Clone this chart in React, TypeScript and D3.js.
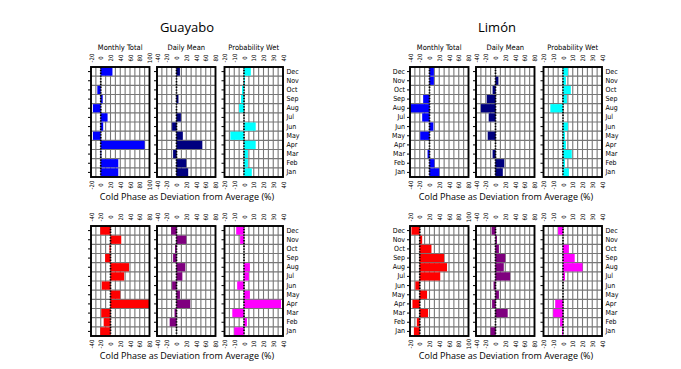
import React from 'react';
import { scaleLinear, scaleBand, range } from 'd3';

const months = ['Jan', 'Feb', 'Mar', 'Apr', 'May', 'Jun', 'Jul', 'Aug', 'Sep', 'Oct', 'Nov', 'Dec'];
const panelTitles = ['Monthly Total', 'Daily Mean', 'Probability Wet'];
const axisTitle = 'Cold Phase as Deviation from Average (%)';

// tick labels of the three kinds of x axis
const ticksTotalWide = [-20, 0, 20, 40, 60, 80, 100];
const ticksTotal = [-40, -20, 0, 20, 40, 60, 80];
const ticksWet = [-20, -10, 0, 10, 20, 30, 40];

// values Jan..Dec
const guayaboTopTotal = [36, 36, 1, 90, -16, 5, 14, -16, 4, -7, 0, 24];
const guayaboTopDaily = [24, 20, -7, 53, 13, -9, 9, 0, 4, 0, 0, 7];
const guayaboTopWet = [8, 4, 4, 12, -14, 12, 0, -5, -3, -2, 1, 7];

const limonTopTotal = [20, 10, -4, 0, -19, 8, -15, -40, -13, 0, 9, 9];
const limonTopDaily = [15, 18, -6, 0, -16, 0, -14, -30, -18, -6, 6, 0];
const limonTopWet = [6, 2, 9, 3, 2, 5, 0, -13, 4, 8, 3, 5];

const guayaboBotTotal = [-21, -14, -19, 80, 20, -18, 28, 38, -11, -2, 22, -21];
const guayaboBotDaily = [0, -14, -4, 28, 7, -9, 12, 18, -7, -3, 20, -11];
const guayaboBotWet = [-10, 3, -12, 38, 6, -7, 5, 6, 0, 0, -4, -8];

const limonBotTotal = [-12, -6, 17, -15, 15, -9, 42, 56, 50, 24, 5, -17];
const limonBotDaily = [-10, 0, 25, -7, 7, -4, 30, 17, 20, 7, 3, -8];
const limonBotWet = [-1, -3, -10, -8, 0, 0, 2, 20, 12, 6, 0, -5];

const coldColors = ['#0000ff', '#00007f', '#00ffff'];
const warmColors = ['#ff0000', '#7f007f', '#ff00ff'];

const NARROW = "'Liberation Sans Narrow', 'DejaVu Sans Condensed', 'Open Sans', sans-serif";
const SANS = "'Open Sans', 'Noto Sans', sans-serif";

const PANEL_W = 58.5;
const PANEL_H = 110;
const PANEL_OFFSETS = [0, 66, 133.5];

const groups = [
	{ site: 'Guayabo', siteX: 187, x: 91, y: 67, titles: true, left: false,
		series: [guayaboTopTotal, guayaboTopDaily, guayaboTopWet], ticks: [ticksTotalWide, ticksTotal, ticksWet], colors: coldColors },
	{ site: 'Limón', siteX: 497, x: 410, y: 67, titles: true, left: true,
		series: [limonTopTotal, limonTopDaily, limonTopWet], ticks: [ticksTotal, ticksTotal, ticksWet], colors: coldColors },
	{ site: '', siteX: 0, x: 91, y: 226, titles: false, left: false,
		series: [guayaboBotTotal, guayaboBotDaily, guayaboBotWet], ticks: [ticksTotal, ticksTotal, ticksWet], colors: warmColors },
	{ site: '', siteX: 0, x: 410, y: 226, titles: false, left: true,
		series: [limonBotTotal, limonBotDaily, limonBotWet], ticks: [ticksTotalWide, ticksTotal, ticksWet], colors: warmColors },
];

function Panel({ x, y, values, ticks, color, title, leftLabels, rightLabels }: any) {
	const lo = ticks[0];
	const hi = ticks[ticks.length - 1];
	const xScale = scaleLinear().domain([lo, hi]).range([0, PANEL_W]);
	const yScale = scaleBand().domain(months.slice().reverse()).range([0, PANEL_H]);
	const bw = yScale.bandwidth();
	const gridStep = (hi - lo) / 12;
	const vGrid = range(1, 12).map((i) => lo + i * gridStep);

	return (
		<g transform={'translate(' + x + ',' + y + ')'}>
			{title && (
				<text x={PANEL_W / 2} y={-17} textAnchor="middle" fontSize={7.5} fontFamily={NARROW}>{title}</text>
			)}
			<rect x={0} y={0} width={PANEL_W} height={PANEL_H} fill="#fff" />
			{vGrid.map((v) => (
				<line key={'v' + v} x1={xScale(v)} x2={xScale(v)} y1={0} y2={PANEL_H} stroke="#777" strokeWidth={1.1} />
			))}
			{months.slice(0, 11).map((m) => (
				<line key={'h' + m} x1={0} x2={PANEL_W} y1={yScale(m)} y2={yScale(m)} stroke="#777" strokeWidth={1.1} />
			))}
			{months.map((m, i) => {
				const v = values[i];
				if (!v) return null;
				const x0 = xScale(Math.min(0, v));
				const x1 = xScale(Math.max(0, v));
				return (
					<rect key={'b' + m} x={x0} y={(yScale(m) as number) + bw * 0.05} width={x1 - x0} height={bw * 0.9} fill={color} />
				);
			})}
			<line x1={xScale(0)} x2={xScale(0)} y1={0} y2={PANEL_H} stroke="#000" strokeWidth={1.7} strokeDasharray="1.4,1.4" />
			<rect x={0} y={0} width={PANEL_W} height={PANEL_H} fill="none" stroke="#000" strokeWidth={1.9} />
			{months.map((m) => (
				<line key={'t' + m} x1={-3} x2={0} y1={(yScale(m) as number) + bw / 2} y2={(yScale(m) as number) + bw / 2} stroke="#000" strokeWidth={1} />
			))}
			{ticks.map((t: number) => (
				<g key={'tk' + t}>
					<text transform={'translate(' + xScale(t) + ',' + -9 + ') rotate(-90)'} textAnchor="middle" dominantBaseline="central" fontSize={6} fontFamily={NARROW}>{t}</text>
					<text transform={'translate(' + xScale(t) + ',' + (PANEL_H + 8) + ') rotate(-90)'} textAnchor="middle" dominantBaseline="central" fontSize={6} fontFamily={NARROW}>{t}</text>
				</g>
			))}
			{leftLabels && months.map((m) => (
				<text key={'l' + m} x={-5} y={(yScale(m) as number) + bw / 2} textAnchor="end" dominantBaseline="central" fontSize={7} fontFamily={NARROW}>{m}</text>
			))}
			{rightLabels && months.map((m) => (
				<text key={'r' + m} x={PANEL_W + 3.5} y={(yScale(m) as number) + bw / 2} dominantBaseline="central" fontSize={7} fontFamily={NARROW}>{m}</text>
			))}
		</g>
	);
}

export default function App() {
	const totalW = PANEL_OFFSETS[2] + PANEL_W;
	return (
		<svg width={681} height={369} style={{ position: 'absolute', left: 0, top: 0, background: '#fff' }}>
			{groups.map((g, gi) => (
				<g key={gi}>
					{g.site && (
						<text x={g.siteX} y={32} textAnchor="middle" fontSize={13} fontFamily={SANS}>{g.site}</text>
					)}
					{g.series.map((vals, pi) => (
						<Panel key={pi}
							x={g.x + PANEL_OFFSETS[pi]}
							y={g.y}
							values={vals}
							ticks={g.ticks[pi]}
							color={g.colors[pi]}
							title={g.titles ? panelTitles[pi] : null}
							leftLabels={g.left && pi === 0}
							rightLabels={pi === 2}
						/>
					))}
					<text x={g.x + totalW / 2} y={g.y + PANEL_H + 23} textAnchor="middle" fontSize={9} fontFamily={SANS}>{axisTitle}</text>
				</g>
			))}
		</svg>
	);
}
